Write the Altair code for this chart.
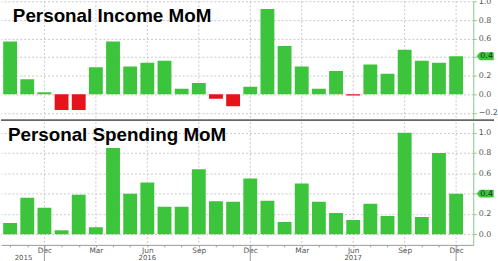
import altair as alt
import pandas as pd

# ---- data ----
months = ["2015-10", "2015-11", "2015-12",
          "2016-01", "2016-02", "2016-03", "2016-04", "2016-05", "2016-06",
          "2016-07", "2016-08", "2016-09", "2016-10", "2016-11", "2016-12",
          "2017-01", "2017-02", "2017-03", "2017-04", "2017-05", "2017-06",
          "2017-07", "2017-08", "2017-09", "2017-10", "2017-11", "2017-12"]
income = [0.57, 0.16, 0.02, -0.17, -0.17, 0.29, 0.57, 0.30, 0.34, 0.36, 0.06, 0.12,
          -0.05, -0.13, 0.08, 0.92, 0.52, 0.30, 0.06, 0.25, -0.015, 0.32, 0.22,
          0.48, 0.36, 0.34, 0.41]
spending = [0.11, 0.36, 0.26, 0.04, 0.39, 0.07, 0.85, 0.40, 0.51, 0.27, 0.27, 0.64,
            0.325, 0.32, 0.55, 0.33, 0.12, 0.50, 0.32, 0.21, 0.14, 0.30, 0.18,
            1.00, 0.17, 0.80, 0.40]
titles = ["Personal Income MoM", "Personal Spending MoM"]
month_abbr = {"03": "Mar", "06": "Jun", "09": "Sep", "12": "Dec"}
year_labels = ["2015", "2016", "2017"]
year_pos = [0.78, 8, 20]
y_ticks_top = [-0.2, 0.0, 0.2, 0.4, 0.6, 0.8, 1.0]
y_ticks_bottom = [0.0, 0.2, 0.4, 0.6, 0.8, 1.0]

# ---- styling ----
GREEN = "#3cc43c"
RED = "#e5141b"
AXIS_GREEN = "#8cc68c"
GRID = "#c8c8c8"
LABEL = "#555555"
FONT = "Liberation Sans"
SMALL = "DejaVu Sans"
W = 477
H1 = 120
H2 = 124

idx = list(range(len(months)))
quarter_idx = [i for i, m in enumerate(months) if m[5:] in month_abbr]
dec_idx = [i for i, m in enumerate(months) if m[5:] == "12"]
labels_arr = [month_abbr.get(m[5:], "") for m in months]
label_expr = "[" + ",".join("'%s'" % s for s in labels_arr) + "][round(datum.value)]"

xscale = alt.Scale(domain=[-0.243, 26.71], nice=False, zero=False)

df_inc = pd.DataFrame({"i": idx, "v": income})
df_sp = pd.DataFrame({"i": idx, "v": spending})
df_q = pd.DataFrame({"i": quarter_idx})
df_dec = pd.DataFrame({"i": dec_idx})
df_years = pd.DataFrame({"i": year_pos, "year": year_labels})


def panel(df, title, ydomain, yvalues, height, bottom, title_x, title_y):
    last_val = round(float(df["v"].iloc[-1]), 1)
    if bottom:
        xaxis = alt.Axis(values=idx, labelExpr=label_expr, tickSize=2, tickColor="#999999",
                         domainColor="#999999", labelFontSize=7.5, labelColor=LABEL,
                         labelFont=SMALL, labelPadding=0, grid=False, title=None,
                         labelOverlap=False, labelBound=False, labelFlush=False)
    else:
        xaxis = alt.Axis(labels=False, ticks=False, grid=False, domain=False, title=None)
    yscale = alt.Scale(domain=ydomain, nice=False, zero=False)
    yaxis = alt.Axis(orient="right", values=yvalues, format=".1f", grid=True,
                     gridDash=[2, 2], gridColor=GRID, domainColor=AXIS_GREEN,
                     tickColor=AXIS_GREEN, tickSize=3, labelColor=LABEL, labelFontSize=8,
                     labelFont=SMALL, labelPadding=2, title=None, labelOverlap=False,
                     labelFlush=False, labelBound=False,
                     labelExpr="abs(datum.value - %s) < 0.001 ? '' : datum.label" % last_val)
    X = alt.X("i:Q", scale=xscale, axis=xaxis)
    Y = alt.Y("v:Q", scale=yscale, axis=yaxis)

    vgrid = alt.Chart(df_q).mark_rule(color=GRID, strokeDash=[2, 2], strokeWidth=1).encode(x=X)
    bars = alt.Chart(df).mark_bar(size=14, clip=True).encode(
        x=X, y=Y,
        color=alt.condition(alt.datum.v < 0, alt.value(RED), alt.value(GREEN)),
    )
    last = df.tail(1)
    tag = alt.Chart(last).mark_point(
        shape="M -1 0 L -0.62 -0.46 L 1 -0.46 L 1 0.46 L -0.62 0.46 Z",
        size=300, filled=True, color=GREEN, opacity=1, strokeWidth=0).encode(
        x=alt.value(W + 12), y=Y)
    tag_text = alt.Chart(last).mark_text(fontSize=8, font=SMALL, color="#123312",
                                         align="center", baseline="middle").encode(
        x=alt.value(W + 13.5), y=Y, text=alt.Text("v:Q", format=".1f"))
    ttl = alt.Chart(pd.DataFrame({"t": [title]})).mark_text(
        align="left", baseline="alphabetic", fontSize=19, fontWeight="bold", font=FONT,
        color="#000000").encode(x=alt.value(title_x), y=alt.value(title_y), text="t:N")
    layers = [vgrid, bars, tag, tag_text, ttl]
    if not bottom:
        divider = alt.Chart(pd.DataFrame({"d": [0]})).mark_rule(
            color="#666666", strokeWidth=2).encode(
            x=alt.value(0), x2=alt.value(W + 21), y=alt.value(height))
        layers.append(divider)
    else:
        seps = alt.Chart(df_dec).mark_rule(color="#999999", strokeWidth=1).encode(
            x=X, y=alt.value(height), y2=alt.value(height + 17))
        years = alt.Chart(df_years).mark_text(
            fontSize=7, font=SMALL, color=LABEL, baseline="middle").encode(
            x=X, y=alt.value(height + 13), text="year:N")
        layers += [seps, years]
    return alt.layer(*layers).properties(width=W, height=height)


top = panel(df_inc, titles[0], [-0.28, 1.003], y_ticks_top, H1, False, 12, 20.5)
bottom = panel(df_sp, titles[1], [-0.104, 1.104], y_ticks_bottom, H2, True, 7, 19.5)

chart = alt.vconcat(top, bottom, spacing=0).properties(
    padding={"left": 0, "top": -4, "right": 0, "bottom": 0}
).configure_view(stroke=None)

chart.save("out.html", embed_options={"renderer": "svg", "actions": False})
